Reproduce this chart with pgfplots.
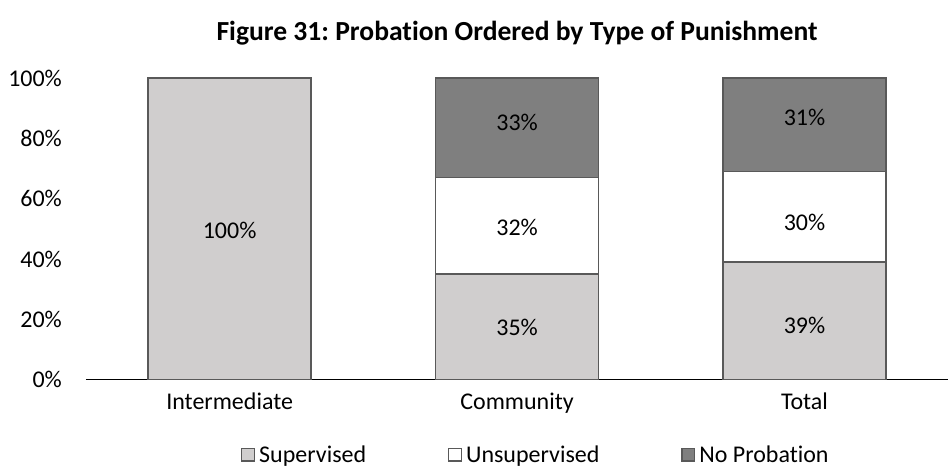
\documentclass[border=0pt]{standalone}
\usepackage{pgfplots}
\pgfplotsset{compat=1.18}
\usepackage{fontspec}
\setmainfont{Carlito}[Ligatures=CommonOff]
\frenchspacing
\definecolor{sup}{HTML}{D0CECE}
\definecolor{nop}{HTML}{7F7F7F}
\definecolor{edge}{HTML}{595959}
\begin{document}
\begin{tikzpicture}
\path (-43pt,-43pt) rectangle (431.5pt,190pt);
\begin{axis}[
  at={(0,0)}, anchor=south west,
  scale only axis, width=431.5pt, height=151pt,
  xmin=-0.5, xmax=2.5, ymin=0, ymax=100,
  ybar stacked, bar width=81.5pt,
  axis x line=bottom, axis y line=left,
  y axis line style={draw=none},
  x axis line style={-, line width=0.8pt, black},
  xtick={0,1,2}, xticklabels={Intermediate,Community,Total},
  ytick={0,20,40,60,80,100}, yticklabels={0\%,20\%,40\%,60\%,80\%,100\%},
  major tick length=0pt,
  ticklabel style={font=\fontsize{12}{14}\selectfont},
  yticklabel style={xshift=-8.5pt},
  xticklabel style={yshift=-3pt},
  title={Figure 31: Probation Ordered by Type of Punishment},
  title style={font=\fontsize{13.8}{16}\selectfont\bfseries, yshift=7pt},
  legend columns=3,
  legend style={draw=none, at={(0.523,-0.252)}, anchor=center,
    font=\fontsize{12}{14}\selectfont,
    /tikz/every even column/.append style={column sep=39pt}},
  legend image code/.code={\draw[#1, line width=0.6pt] (0pt,-2.6pt) rectangle (6.4pt,3.8pt);},
]
\addplot[fill=sup, draw=edge, line width=0.8pt] coordinates {(0,100) (1,35) (2,39)};
\addplot[fill=white, draw=edge, line width=0.8pt] coordinates {(0,0) (1,32) (2,30)};
\addplot[fill=nop, draw=edge, line width=0.8pt] coordinates {(0,0) (1,33) (2,31)};
\legend{Supervised,Unsupervised,No Probation}
\end{axis}
\begin{axis}[
  at={(0,0)}, anchor=south west,
  scale only axis, width=431.5pt, height=151pt,
  xmin=-0.5, xmax=2.5, ymin=0, ymax=100,
  hide axis,
  /pgf/number format/assume math mode=true,
]
\addplot[draw=none, mark=none, nodes near coords={\pgfmathprintnumber{\pgfplotspointmeta}\%},
  nodes near coords align=center, point meta=explicit,
  every node near coord/.append style={font=\fontsize{12}{14}\selectfont, anchor=center}]
  table[meta=v] {
x y v
0 49.3 100
1 17.2 35
1 50.3 32
1 85.4 33
2 17.9 39
2 52.0 30
2 86.8 31
};
\end{axis}
\end{tikzpicture}
\end{document}
